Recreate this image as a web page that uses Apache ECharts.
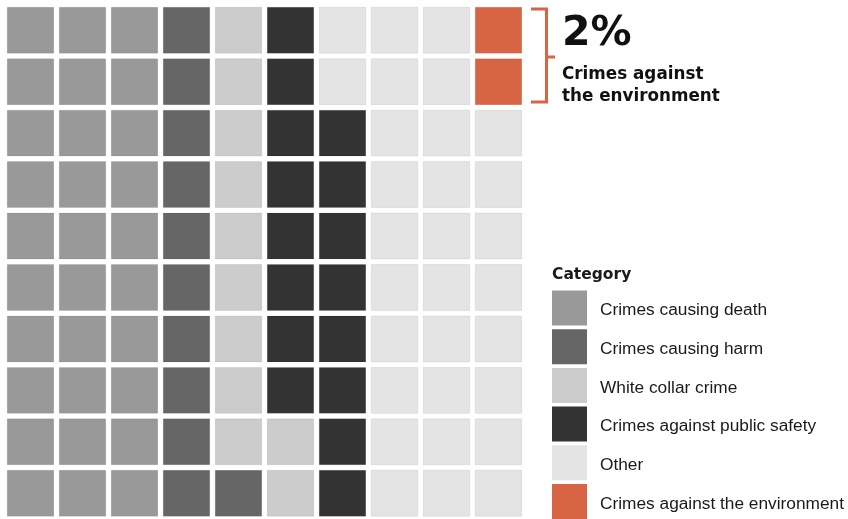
<!DOCTYPE html>
<html>
<head>
<meta charset="utf-8">
<script src="https://cdn.jsdelivr.net/npm/echarts@6/dist/echarts.min.js"></script>
<style>
html,body{margin:0;padding:0;background:#fff;}
#chart{width:848px;height:519px;}
</style>
</head>
<body>
<div id="chart"></div>
<script>
// ---- data ----
const categories = ['Crimes causing death', 'Crimes causing harm', 'White collar crime', 'Crimes against public safety', 'Other', 'Crimes against the environment'];
const cellCounts = [30, 11, 11, 16, 30, 2]; // squares out of 100
const colors = ['#999999', '#666666', '#cccccc', '#333333', '#e4e4e4', '#d76443'];
const highlightLabel = 'Crimes against\nthe environment';
const gridCols = 10;
const gridRows = 10;

// assign cells: column by column, each column filled from the bottom up
const cellsByCat = categories.map(() => []);
let idx = 0;
cellCounts.forEach((n, ci) => {
  for (let k = 0; k < n; k++) {
    const col = Math.floor(idx / gridRows);
    const row = gridRows - 1 - (idx % gridRows);
    cellsByCat[ci].push([col, row]);
    idx++;
  }
});

const GAP = 5.5;
function renderCell(params, api) {
  const c = api.coord([api.value(0) + 0.5, api.value(1) + 0.5]);
  const s = api.size([1, 1]);
  const w = s[0] - GAP, h = s[1] - GAP;
  return {
    type: 'rect',
    shape: { x: c[0] - w / 2, y: c[1] - h / 2, width: w, height: h },
    style: { fill: api.visual('color'), stroke: 'rgba(0,0,0,0.07)', lineWidth: 1 }
  };
}

const chart = echarts.init(document.getElementById('chart'), null, { renderer: 'canvas' });
const FONT = '"Liberation Sans", Arial, Helvetica, sans-serif';
const BOLDFONT = '"DejaVu Sans", "Liberation Sans", sans-serif';
const envPct = cellCounts[5];

chart.setOption({
  animation: false,
  backgroundColor: '#ffffff',
  color: colors,
  title: {
    text: 'Category',
    left: 552, top: 267, padding: 0,
    textStyle: { fontFamily: BOLDFONT, fontSize: 15.5, fontWeight: 'bold', color: '#1a1a1a' }
  },
  legend: {
    orient: 'vertical',
    left: 552, top: 290.5, height: 240, padding: 0,
    itemWidth: 35, itemHeight: 35, itemGap: 3.7,
    icon: 'rect',
    selectedMode: false,
    data: categories,
    formatter: '{t|{name}}',
    textStyle: {
      fontFamily: FONT, fontSize: 17.3, color: '#1a1a1a',
      rich: { t: { fontFamily: FONT, fontSize: 17.3, color: '#1a1a1a', padding: [5, 0, 0, 8] } }
    }
  },
  grid: { left: 4.5, top: 4.5, width: 520, height: 520, containLabel: false },
  xAxis: { type: 'value', min: 0, max: gridCols, show: false },
  yAxis: { type: 'value', min: 0, max: gridRows, inverse: true, show: false },
  graphic: [
    {
      type: 'polyline',
      shape: { points: [[531, 9], [546.5, 9], [546.5, 102], [531, 102]] },
      style: { stroke: colors[5], lineWidth: 3, fill: null }
    },
    {
      type: 'line',
      shape: { x1: 546.5, y1: 57, x2: 555, y2: 57 },
      style: { stroke: colors[5], lineWidth: 3 }
    },
    {
      type: 'text', left: 562, top: 14,
      style: { text: envPct + '%', font: 'bold 41px ' + BOLDFONT, fill: '#111' }
    },
    {
      type: 'text', left: 562, top: 64,
      style: { text: highlightLabel, font: 'bold 16.8px ' + BOLDFONT, fill: '#111', lineHeight: 22 }
    }
  ],
  series: categories.map((name, i) => ({
    name: name,
    type: 'custom',
    renderItem: renderCell,
    itemStyle: { color: colors[i] },
    data: cellsByCat[i],
    silent: true
  }))
});
</script>
</body>
</html>
